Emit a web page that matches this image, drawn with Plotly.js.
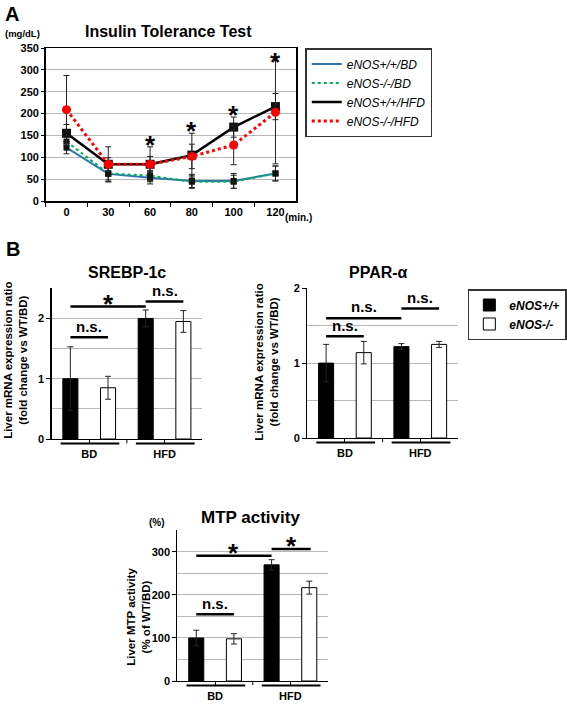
<!DOCTYPE html>
<html><head><meta charset="utf-8">
<script src="https://cdn.plot.ly/plotly-3.0.1.min.js"></script>
<style>html,body{margin:0;padding:0;background:#fff}#chart{width:567px;height:704px}</style>
</head><body><div id="chart"></div>
<script>
const W=567,H=704;
const fx=p=>p/W, fy=p=>1-p/H;
const FONT='Arial, "Liberation Sans", sans-serif';

// ---- Panel A: Insulin tolerance test ----
const timePoints=['0','30','60','80','100','120'];
const wtBD=[122,62,53,46,46,63];
const wtBDerr=[14,18,14,15,17,17];
const koBD=[136,63,58,44,44,63];
const koBDerr=[10,15,12,15,15,17];
const wtHFD=[155,84,84,105,169,216];
const wtHFDerr=[20,40,40,50,23,30];
const koHFD=[209,84,84,102,128,203];
const koHFDerr=[78,15,18,28,45,118];
const seriesNames=['eNOS+/+/BD','eNOS-/-/BD','eNOS+/+/HFD','eNOS-/-/HFD'];
const starTimes=['60','80','100','120'];
const starLevels=[145,175,212,335];

// ---- Panel B ----
const groups=['BD','HFD'];
const genotypes=['eNOS+/+','eNOS-/-'];
const srebpWT=[1.0,2.0], srebpWTerr=[0.53,0.14];
const srebpKO=[0.85,1.95], srebpKOerr=[0.19,0.18];
const pparWT=[1.0,1.22], pparWTerr=[0.25,0.04];
const pparKO=[1.14,1.25], pparKOerr=[0.15,0.04];
const mtpWT=[100,270], mtpWTerr=[18,12];
const mtpKO=[98,217], mtpKOerr=[12,15];

const errA=(arr)=>({type:'data',array:arr,visible:true,color:'#222',thickness:1,width:3});
const traces=[];
const lineStyles=[
 {color:'#2e75b6',width:2,dash:'solid'},
 {color:'#00b050',width:2,dash:'dot'},
 {color:'#000000',width:2.5,dash:'solid'},
 {color:'#ff0000',width:3,dash:'dot'}];
const markerStyles=[
 {symbol:'square',size:6,color:'#111'},
 {symbol:'square',size:6,color:'#111'},
 {symbol:'square',size:9,color:'#111'},
 {symbol:'circle',size:9,color:'#ff0000'}];
[[wtBD,wtBDerr],[koBD,koBDerr],[wtHFD,wtHFDerr],[koHFD,koHFDerr]].forEach((s,i)=>{
  traces.push({type:'scatter',mode:'lines+markers',x:timePoints,y:s[0],error_y:errA(s[1]),
    line:lineStyles[i],marker:markerStyles[i],name:seriesNames[i],showlegend:false,xaxis:'x',yaxis:'y',cliponaxis:false});
});
seriesNames.forEach((n,i)=>{
  traces.push({type:'scatter',mode:'lines',x:[null],y:[null],line:lineStyles[i],name:n,showlegend:true,xaxis:'x',yaxis:'y',legend:'legend'});
});

const barSets=[
 {wt:srebpWT,wte:srebpWTerr,ko:srebpKO,koe:srebpKOerr,xa:'x2',ya:'y2',show:true},
 {wt:pparWT,wte:pparWTerr,ko:pparKO,koe:pparKOerr,xa:'x3',ya:'y3',show:false},
 {wt:mtpWT,wte:mtpWTerr,ko:mtpKO,koe:mtpKOerr,xa:'x4',ya:'y4',show:false}];
barSets.forEach(b=>{
  traces.push({type:'bar',x:groups,y:b.wt,name:genotypes[0],error_y:{type:'data',array:b.wte,color:'#222',thickness:1,width:3},
    marker:{color:'#000',line:{color:'#000',width:1}},xaxis:b.xa,yaxis:b.ya,showlegend:b.show,legend:'legend2'});
  traces.push({type:'bar',x:groups,y:b.ko,name:genotypes[1],error_y:{type:'data',array:b.koe,color:'#222',thickness:1,width:3},
    marker:{color:'#fff',line:{color:'#000',width:1}},xaxis:b.xa,yaxis:b.ya,showlegend:b.show,legend:'legend2'});
});

const tf={family:FONT,size:11,color:'#000',weight:'bold'};
const gridc='#b8b8b8';
function barX(dom,anchor){return {domain:dom,anchor:anchor,type:'category',range:[-0.5,1.5],showline:true,linecolor:'#000',linewidth:1.2,
  ticks:'outside',ticklen:4,tickcolor:'#000',tickfont:tf,ticklabelstandoff:1,showgrid:false,zeroline:false,fixedrange:true};}
function barY(dom,anchor,rng,tv,md){return {domain:dom,anchor:anchor,range:rng,tickvals:tv,showline:true,linecolor:'#000',linewidth:1.2,
  ticks:'outside',ticklen:4,tickcolor:'#000',tickfont:tf,showgrid:true,gridcolor:gridc,gridwidth:1,zeroline:false,
  minor:{dtick:md,showgrid:true,gridcolor:gridc,gridwidth:1,ticks:''}};}

const ann=[];
const A=(o)=>ann.push(Object.assign({showarrow:false,xanchor:'center',yanchor:'middle',font:{family:FONT,size:11,color:'#000',weight:'bold'}},o));
A({text:'A',xref:'paper',yref:'paper',x:fx(3),y:fy(1),xanchor:'left',yanchor:'top',font:{family:FONT,size:20,weight:'bold',color:'#000'}});
A({text:'Insulin Tolerance Test',xref:'paper',yref:'paper',x:fx(170),y:fy(32),font:{family:FONT,size:16,weight:'bold',color:'#000'}});
A({text:'(mg/dL)',xref:'paper',yref:'paper',x:fx(23),y:fy(33),font:{family:FONT,size:9.5,weight:'bold',color:'#000'}});
A({text:'(min.)',xref:'paper',yref:'paper',x:fx(301),y:fy(218),font:{family:FONT,size:10,weight:'bold',color:'#000'}});
starTimes.forEach((t,i)=>A({text:'*',xref:'x',yref:'y',x:timePoints.indexOf(t),y:starLevels[i],yshift:-7,font:{family:FONT,size:26,weight:'bold',color:'#000'}}));

A({text:'B',xref:'paper',yref:'paper',x:fx(4),y:fy(236),xanchor:'left',yanchor:'top',font:{family:FONT,size:20,weight:'bold',color:'#000'}});
A({text:'SREBP-1c',xref:'paper',yref:'paper',x:fx(128),y:fy(272),font:{family:FONT,size:16,weight:'bold',color:'#000'}});
A({text:'PPAR-α',xref:'paper',yref:'paper',x:fx(382),y:fy(272),font:{family:FONT,size:16,weight:'bold',color:'#000'}});
A({text:'MTP activity',xref:'paper',yref:'paper',x:fx(253),y:fy(517),font:{family:FONT,size:17,weight:'bold',color:'#000'}});
A({text:'(%)',xref:'paper',yref:'paper',x:fx(158),y:fy(522),font:{family:FONT,size:10,weight:'bold',color:'#000'}});
const ytitle='Liver mRNA expression ratio<br>(fold change vs WT/BD)';
A({text:ytitle,xref:'paper',yref:'paper',x:fx(15),y:fy(360),textangle:-90,font:{family:FONT,size:11.5,weight:'bold',color:'#000'}});
A({text:ytitle,xref:'paper',yref:'paper',x:fx(268),y:fy(362),textangle:-90,font:{family:FONT,size:11.5,weight:'bold',color:'#000'}});
A({text:'Liver MTP activity<br>(% of WT/BD)',xref:'paper',yref:'paper',x:fx(139),y:fy(617),textangle:-90,font:{family:FONT,size:11.5,weight:'bold',color:'#000'}});

const shp=[];
function sig(xa,ya,x0,x1,yv,txt,ty,isStar){
  shp.push({type:'line',xref:xa,yref:ya,x0:x0,x1:x1,y0:yv,y1:yv,line:{color:'#000',width:2.5}});
  A({text:txt,xref:xa,yref:ya,x:(x0+x1)/2,y:ty,yshift:isStar?-7:0,
     font:{family:FONT,size:isStar?26:15,weight:'bold',color:'#000'}});
}
// SREBP
sig('x2','y2',-0.25,0.75,2.2,'*',2.35,true);
sig('x2','y2',0.75,1.25,2.28,'n.s.',2.46,false);
sig('x2','y2',-0.25,0.25,1.69,'n.s.',1.86,false);
// PPAR
sig('x3','y3',-0.25,0.75,1.6,'n.s.',1.75,false);
sig('x3','y3',-0.25,0.25,1.36,'n.s.',1.5,false);
sig('x3','y3',0.75,1.25,1.73,'n.s.',1.87,false);
// MTP
sig('x4','y4',-0.25,0.75,291,'*',314,true);
sig('x4','y4',0.75,1.27,307,'*',330,true);
sig('x4','y4',-0.25,0.25,155,'n.s.',180,false);

[['x2','y2'],['x3','y3'],['x4','y4']].forEach(([xa,ya])=>{
  shp.push({type:'line',xref:xa,yref:ya+' domain',x0:-0.38,x1:0.4,y0:-0.03,y1:-0.03,line:{color:'#000',width:2}});
  shp.push({type:'line',xref:xa,yref:ya+' domain',x0:0.62,x1:1.4,y0:-0.03,y1:-0.03,line:{color:'#000',width:2}});
  shp.push({type:'line',xref:xa,yref:ya+' domain',x0:0.5,x1:0.5,y0:0,y1:-0.028,line:{color:'#000',width:1}});
});

const layout={
  width:W,height:H,margin:{l:0,r:0,t:0,b:0},paper_bgcolor:'#fff',plot_bgcolor:'#fff',
  font:{family:FONT,color:'#000'},
  barmode:'group',bargap:0,bargroupgap:0.6,
  xaxis:{domain:[fx(46),fx(299)],anchor:'y',type:'category',range:[-0.5,5.5],tickson:'boundaries',ticks:'outside',ticklen:4,tickcolor:'#000',
    showline:true,mirror:true,linecolor:'#000',linewidth:1.5,tickfont:tf,showgrid:false,zeroline:false},
  yaxis:{domain:[fy(201),fy(48)],anchor:'x',range:[0,350],dtick:50,ticks:'outside',ticklen:3,tickcolor:'#000',showline:true,mirror:true,
    linecolor:'#000',linewidth:1.5,tickfont:tf,showgrid:true,gridcolor:gridc,zeroline:false},
  xaxis2:barX([fx(52),fx(204)],'y2'),
  yaxis2:barY([fy(439),fy(288)],'x2',[0,2.505],[0,1,2],0.5),
  xaxis3:barX([fx(310),fx(462)],'y3'),
  yaxis3:barY([fy(438),fy(288)],'x3',[0,2.003],[0,1,2],0.5),
  xaxis4:barX([fx(179),fx(331)],'y4'),
  yaxis4:barY([fy(681),fy(530)],'x4',[0,351],[0,100,200,300],50),
  legend:{x:fx(308),y:fy(48),xanchor:'left',yanchor:'top',bordercolor:'#333',borderwidth:1.5,bgcolor:'#fff',
    font:{family:FONT,size:12,style:'italic',color:'#000'},tracegroupgap:0,itemwidth:30},
  legend2:{x:fx(472),y:fy(289),xanchor:'left',yanchor:'top',bordercolor:'#333',borderwidth:1.5,bgcolor:'#fff',
    font:{family:FONT,size:12,style:'italic',weight:'bold',color:'#000'},tracegroupgap:0},
  annotations:ann,shapes:shp
};
Plotly.newPlot('chart',traces,layout,{displayModeBar:false,staticPlot:true});
</script></body></html>
